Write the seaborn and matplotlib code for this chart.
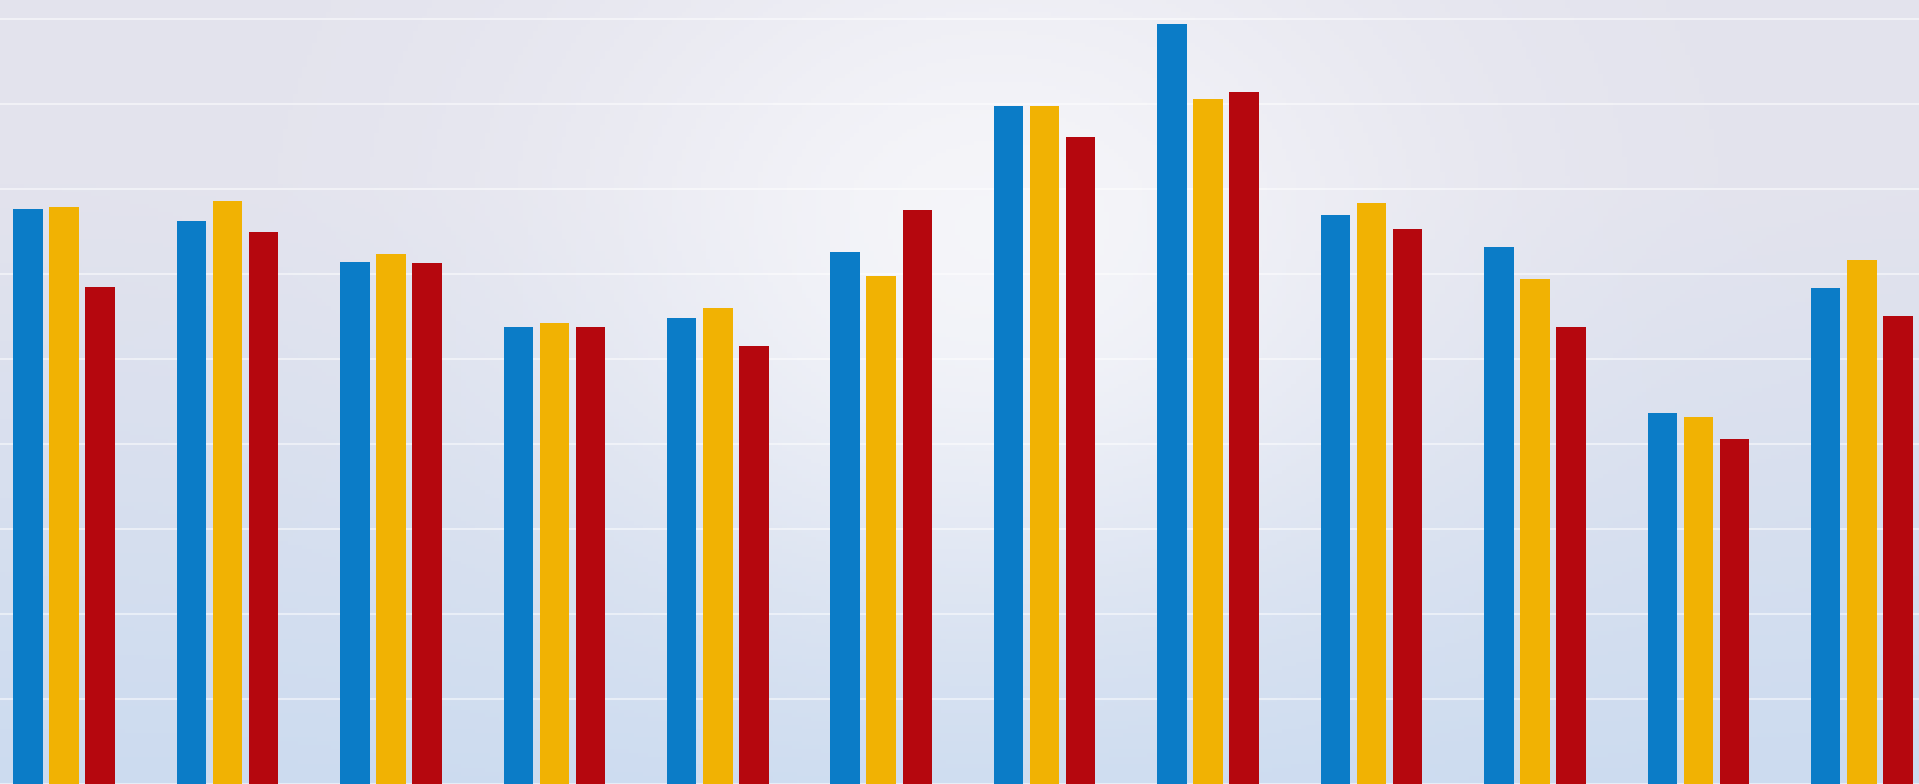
import numpy as np
import pandas as pd
import matplotlib
matplotlib.use("Agg")
import matplotlib.pyplot as plt
import seaborn as sns

# twelve groups, three series each (no labels are printed on the chart)
groups = ["Jan", "Feb", "Mar", "Apr", "May", "Jun",
          "Jul", "Aug", "Sep", "Oct", "Nov", "Dec"]
series_names = ["Blue", "Yellow", "Red"]
blue_vals = [6.76, 6.62, 6.14, 5.38, 5.48, 6.26, 7.97, 8.94, 6.69, 6.32, 4.36, 5.83]
yellow_vals = [6.78, 6.86, 6.23, 5.42, 5.60, 5.97, 7.97, 8.06, 6.83, 5.94, 4.32, 6.16]
red_vals = [5.84, 6.49, 6.13, 5.38, 5.15, 6.75, 7.61, 8.14, 6.53, 5.37, 4.06, 5.50]

palette = ["#0b7cc7", "#f1b203", "#b5070e"]

df = pd.DataFrame({
    "group": groups * 3,
    "series": np.repeat(series_names, len(groups)),
    "value": blue_vals + yellow_vals + red_vals,
})

sns.set_style("white")
fig = plt.figure(figsize=(19.19, 7.84), dpi=100)
ax = fig.add_axes([0, 0, 1, 1])

# paper-like background: lavender at top, bluish at the bottom, whiter centre
ny, nx = 200, 400
yy, xx = np.mgrid[0:1:ny * 1j, 0:1:nx * 1j]
lav = np.array([0.89, 0.89, 0.93])
blu = np.array([0.80, 0.86, 0.94])
mix = np.clip(1 - yy * 1.3, 0, 1)[..., None]
bg = lav[None, None, :] * (1 - mix) + blu[None, None, :] * mix
glow = np.clip(0.8 * np.exp(-((xx - 0.52) ** 2) / 0.05)
               * np.exp(-((yy - 0.7) ** 2) / 0.2), 0, 1)[..., None]
white = np.array([0.98, 0.98, 0.99])
img = bg * (1 - glow) + white[None, None, :] * glow
ax.imshow(img, extent=[0, 1, 0, 1], transform=ax.transAxes, origin="lower",
          aspect="auto", zorder=0)

sns.barplot(data=df, x="group", y="value", hue="series", palette=palette,
            width=0.663, gap=0.185, saturation=1, legend=False, ax=ax,
            linewidth=0, edgecolor="none", zorder=3)

ax.set_xlim(-0.392, 11.35)
ax.set_ylim(0, 9.22)
ax.set_yticks(range(0, 10))
ax.yaxis.grid(True, color="white", alpha=0.5, linewidth=1.5, zorder=1)
ax.set_axisbelow(True)
ax.tick_params(left=False, bottom=False, labelleft=False, labelbottom=False)
ax.set_xlabel("")
ax.set_ylabel("")
for s in ax.spines.values():
    s.set_visible(False)

fig.savefig("out.png", dpi=100)
